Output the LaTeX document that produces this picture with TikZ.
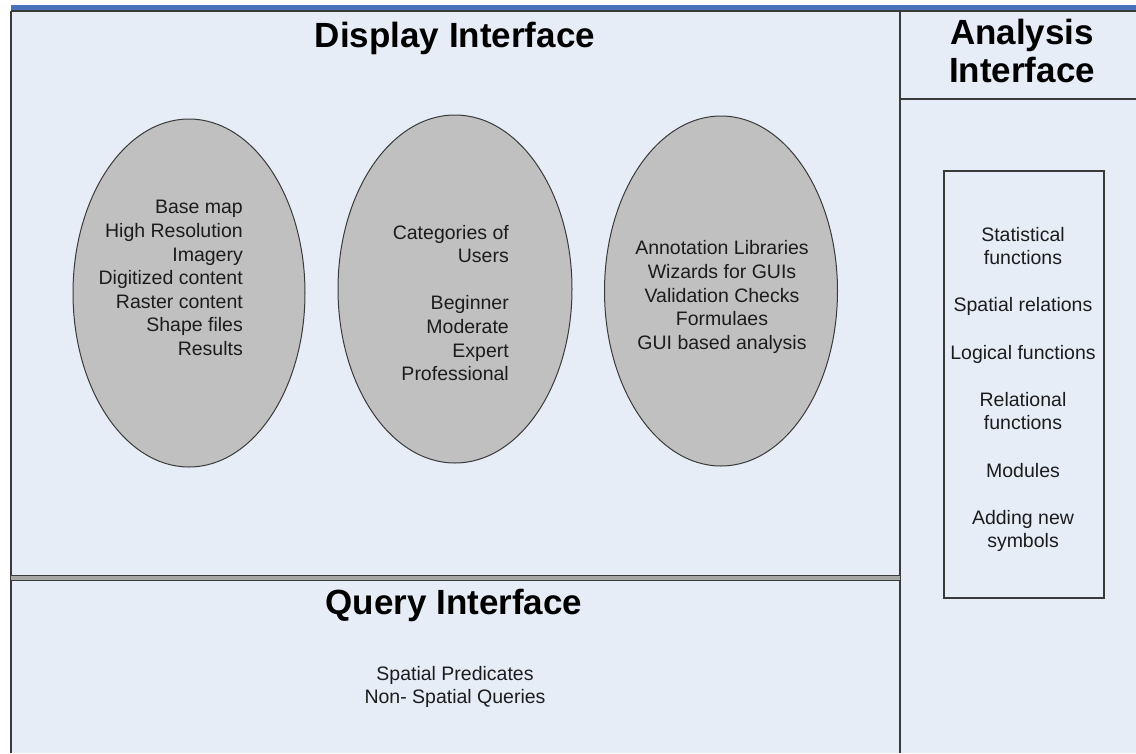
\documentclass[tikz,border=0pt]{standalone}
\usepackage{fontspec}
\setmainfont{Liberation Sans}
\usetikzlibrary{shapes.geometric}
\definecolor{panelbg}{HTML}{E7EDF7}
\definecolor{barblue}{HTML}{4A72B8}
\definecolor{edgegray}{HTML}{3A3A3A}
\definecolor{bubblefill}{HTML}{C0C0C0}
\definecolor{bodygray}{HTML}{1C1C1C}
\def\bodyfont{\fontsize{19.5}{23.6}\selectfont}
\def\titlefont{\bfseries\fontsize{35}{38}\selectfont}
\tikzset{
  bubble/.style={ellipse, draw=edgegray, line width=1pt, fill=bubblefill, inner sep=0pt},
  bodytext/.style={font=\bodyfont, text=bodygray, inner sep=0pt},
  titletext/.style={font=\titlefont, inner sep=0pt},
  frame/.style={edgegray, line width=1.4pt}
}

\begin{document}
\begin{tikzpicture}[x=1pt, y=-1pt]
	\useasboundingbox (0,0) rectangle (1136,753);
	\fill[white] (0,0) rectangle (1136,753);
	\fill[panelbg] (11,11) rectangle (1136,753);
	\fill[barblue] (11,5) rectangle (1136,10.5);
	\draw[frame] (11,11) -- (1136,11);
	\draw[frame] (11,11) -- (11,753);
	\draw[frame] (900,11) -- (900,753);
	\draw[frame] (900,99) -- (1136,99);
	\draw[edgegray, line width=1.2pt, double=gray!70, double distance=3.5pt] (11,578) -- (900,578);
	% display interface
	\node[titletext, anchor=base] (dispTitle) at (455,47) {Display Interface};
	\node[bubble, minimum width=232pt, minimum height=348pt] (mapBubble) at (189,293) {};
	\node[bubble, minimum width=234pt, minimum height=348pt] (userBubble) at (455,289) {};
	\node[bubble, minimum width=233pt, minimum height=350pt] (toolBubble) at (721,291) {};
	\node[bodytext, align=right, anchor=east] (mapList) at (243,278) {Base map\\High Resolution\\Imagery\\Digitized content\\Raster content\\Shape files\\Results};
	\node[bodytext, align=right, anchor=east] (userList) at (509,303) {Categories of\\Users\\[23.6pt]Beginner\\Moderate\\Expert\\Professional};
	\node[bodytext, align=center] (toolList) at (722,297) {Annotation Libraries\\Wizards for GUIs\\Validation Checks\\Formulaes\\GUI based analysis};
	% analysis interface
	\node[titletext, align=center] (anaTitle) at (1022,51) {Analysis\\Interface};
	\node[draw=edgegray, line width=1.2pt, minimum width=160pt, minimum height=427pt, inner sep=0pt] (anaBox) at (1024,384.5) {};
	\node[bodytext, align=center] (anaList) at (1023,389.5) {Statistical\\functions\\[23.6pt]Spatial relations\\[23.6pt]Logical functions\\[23.6pt]Relational\\functions\\[23.6pt]Modules\\[23.6pt]Adding new\\symbols};
	% query interface
	\node[titletext, anchor=base] (queryTitle) at (454,614) {Query Interface};
	\node[bodytext, align=center] (queryList) at (455,687) {Spatial Predicates\\Non- Spatial Queries};
\end{tikzpicture}
\end{document}
